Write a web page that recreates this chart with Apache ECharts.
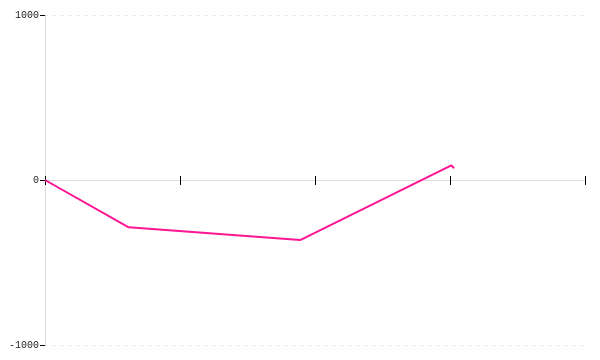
<!DOCTYPE html>
<html>
<head>
<meta charset="utf-8">
<script src="https://cdn.jsdelivr.net/npm/echarts@6/dist/echarts.min.js"></script>
<style>html,body{margin:0;padding:0;background:#fff;}#c{width:600px;height:360px;}</style>
</head>
<body>
<div id="c"></div>
<script>
var xValues = [0, 0.62, 1.89, 3.01, 3.03];
var yValues = [0, -287, -364, 89, 71];
var yTicks = [-1000, 0, 1000];

var points = xValues.map(function (x, i) { return [x, yValues[i]]; });
var chart = echarts.init(document.getElementById('c'));
var xBase = {
  type: 'value', min: 0, max: 4, interval: 1, position: 'bottom',
  axisLabel: { show: false }, splitLine: { show: false }
};
chart.setOption({
  animation: false,
  grid: { left: 45, right: 15, top: 15, bottom: 15, containLabel: false, outerBoundsMode: 'none' },
  xAxis: [
    Object.assign({}, xBase, {
      axisLine: { show: true, onZero: true, lineStyle: { color: '#dddddd', width: 1 } },
      axisTick: { show: true, length: 5, lineStyle: { color: '#000', width: 1 } }
    }),
    Object.assign({}, xBase, {
      offset: -165,
      axisLine: { show: false, onZero: false },
      axisTick: { show: true, inside: true, length: 4, lineStyle: { color: '#000', width: 1 } }
    })
  ],
  yAxis: {
    type: 'value', min: yTicks[0], max: yTicks[yTicks.length - 1], interval: 1000,
    axisLine: { show: true, lineStyle: { color: '#dddddd', width: 1 } },
    axisTick: { show: true, length: 5, lineStyle: { color: '#000', width: 1 } },
    axisLabel: { margin: 6, color: '#222', fontSize: 10, fontFamily: 'Liberation Mono',
      formatter: function (v) { return String(v); } },
    splitLine: { show: true, lineStyle: { color: '#e8e8e8', type: [3, 5], width: 1 } }
  },
  series: [{
    type: 'line', xAxisIndex: 0, data: points, showSymbol: false, symbol: 'none',
    lineStyle: { color: '#ff1493', width: 2 }
  }]
});
</script>
</body>
</html>
